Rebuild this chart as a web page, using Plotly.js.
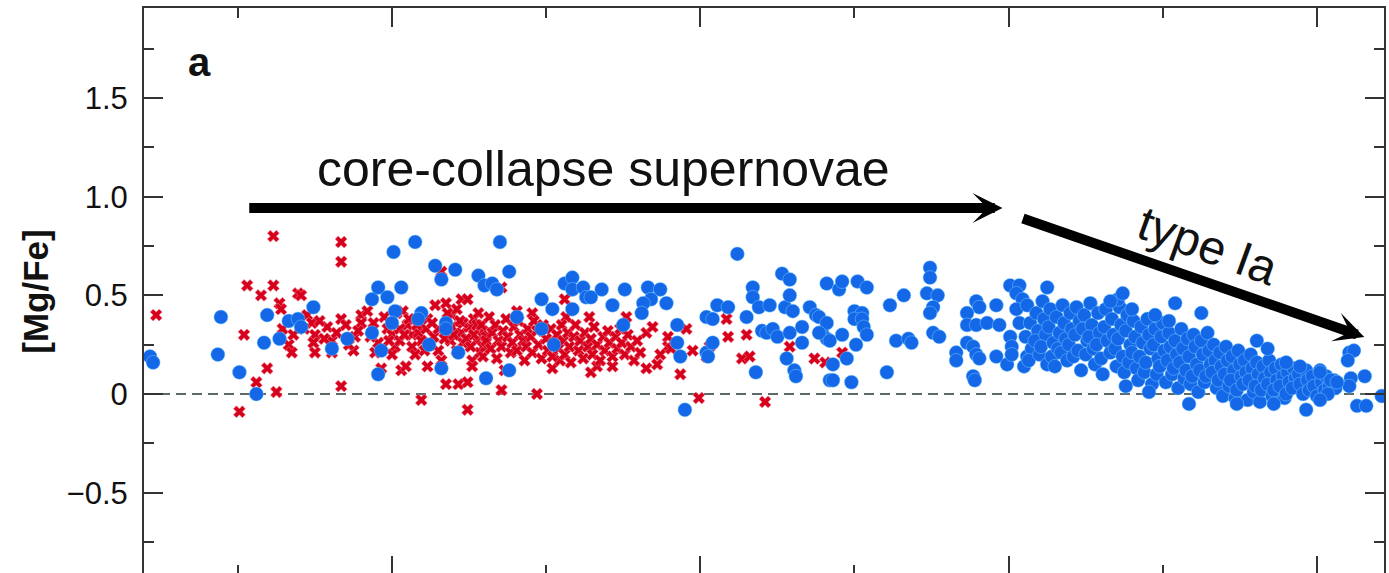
<!DOCTYPE html>
<html>
<head>
<meta charset="utf-8">
<script src="https://cdn.plot.ly/plotly-3.0.1.min.js"></script>
<style>
  html, body { margin: 0; padding: 0; background: #fff; overflow: hidden; }
  #chart { width: 1389px; height: 577px; }
</style>
</head>
<body>
<div id="chart"></div>
<script>
// Stars drawn as [x, [Mg/Fe]] pairs.
// Red crosses: metal-poor, alpha-enhanced population.
const redHalo = [
  [0.47,0.40],[1.01,-0.09],[1.06,0.55],[1.04,0.30],[1.15,0.50],[1.12,0.06],[1.19,0.13],[1.23,0.80],
  [1.23,0.55],[1.25,0.01],[1.27,0.46],[1.28,0.43],[1.29,0.33],[1.33,0.25],[1.35,0.21],[1.39,0.51],
  [1.41,0.50],[1.45,0.40],[1.48,0.36],[1.50,0.30],[1.49,0.26],[1.50,0.21],[1.58,0.34],[1.61,0.27],
  [1.61,0.21],[1.67,0.77],[1.67,0.67],[1.67,0.38],[1.67,0.04],[1.76,0.29],[1.75,0.22],[1.80,0.40],
  [1.84,0.42],[1.80,0.36],[1.89,0.21],[1.91,0.26],[1.93,0.13],[1.95,0.39],[1.97,0.33],[2.03,0.41],
  [2.07,0.42],[2.02,0.24],[2.06,0.12],[2.09,0.14],[2.10,0.35],[2.13,0.30],[2.17,0.31],[2.19,0.27],
  [2.22,0.33],[2.13,0.24],[2.15,0.20],[2.19,-0.03],[2.23,0.38],[2.23,0.14],[2.28,0.45],[2.32,0.62],
  [2.32,0.17],[2.35,0.46],[2.39,0.40],[2.42,0.43],[2.45,0.48],[2.49,0.48],[2.35,0.05],[2.43,0.05],
  [2.49,0.06],[2.39,0.34],[2.45,0.31],[2.50,0.34],[2.55,0.27],[2.59,0.32],[2.61,0.29],[2.52,0.17],
  [2.52,0.14],[2.49,-0.08],[2.59,0.24],[2.57,0.21],
  [2.00,0.30],[2.00,0.20],[2.05,0.33],[2.05,0.27],[2.25,0.25],[2.27,0.29],[2.30,0.33],[2.30,0.22],
  [2.38,0.27],[2.42,0.22],[2.46,0.36],[2.46,0.26],[2.53,0.38],[2.53,0.30],
  [1.36,0.30],[1.43,0.33],[1.53,0.37],[1.56,0.28],[1.64,0.31],[1.70,0.35],[1.72,0.25],[1.78,0.32],
  [1.86,0.29],[1.88,0.36],[1.98,0.27],[2.08,0.30],[2.11,0.38],[2.16,0.35],[2.21,0.22],[2.26,0.36],
  [2.34,0.28],[2.36,0.41],[2.40,0.30],[2.44,0.37],[2.48,0.28],[2.51,0.24],[2.55,0.35],[2.56,0.41]
];
const redDisk = [
  [2.71,0.54],[2.71,0.02],[2.94,0.00],[2.81,0.42],[2.91,0.41],[3.12,0.48],[3.13,0.39],[3.28,0.39],
  [3.52,0.39],[3.87,0.10],[3.99,-0.02],[4.17,0.38],[4.18,0.29],[4.30,0.30],[4.27,0.18],[4.32,0.19],
  [4.42,-0.04],[4.58,0.24],[4.74,0.18],[4.81,0.16],[3.65,0.31],[3.69,0.34],[3.79,0.29],[3.79,0.24],
  [3.74,0.20],[3.81,0.23],[3.91,0.33],[3.95,0.22],[4.04,0.19],[4.06,0.24],[3.65,0.13],[3.72,0.15],
  [3.04,0.13],[3.09,0.17],[3.29,0.11],[3.33,0.14],[3.43,0.14],[4.92,0.21]
];
const redCore = [
  [2.58,0.35],[2.61,0.27],[2.59,0.19],[2.63,0.39],[2.65,0.31],[2.64,0.23],[2.67,0.35],[2.69,0.27],
  [2.68,0.18],[2.72,0.32],[2.71,0.24],[2.74,0.38],[2.75,0.29],[2.73,0.12],[2.77,0.21],[2.79,0.34],
  [2.78,0.26],[2.82,0.37],[2.83,0.30],[2.81,0.22],[2.85,0.27],[2.86,0.17],[2.88,0.33],[2.87,0.24],
  [2.90,0.29],[2.92,0.37],[2.91,0.21],[2.94,0.32],[2.95,0.25],[2.97,0.18],[2.98,0.35],[3.00,0.28],
  [3.01,0.22],[3.03,0.33],[3.05,0.26],[3.04,0.19],[3.07,0.30],[3.08,0.23],[3.10,0.35],[3.11,0.27],
  [3.12,0.20],[3.14,0.31],[3.15,0.24],[3.16,0.16],[3.18,0.29],[3.19,0.35],[3.21,0.22],[3.22,0.27],
  [3.24,0.18],[3.25,0.31],[3.27,0.24],[3.29,0.28],[3.30,0.20],[3.31,0.34],[3.33,0.25],[3.35,0.17],
  [3.37,0.29],[3.38,0.22],[3.40,0.32],[3.41,0.26],[3.43,0.19],[3.45,0.29],[3.46,0.23],[3.48,0.33],
  [3.49,0.26],[3.51,0.20],[3.53,0.30],[3.55,0.24],[3.57,0.17],[3.59,0.27],[3.61,0.21]
];

// Blue circles: stars spanning the full range, ending in the low-[Mg/Fe] sequence.
const blueHalo = [
  [0.43,0.19],[0.45,0.16],[0.89,0.39],[0.87,0.20],[1.01,0.11],[1.12,0.00],[1.19,0.40],[1.17,0.26],
  [1.27,0.28],[1.33,0.37],[1.39,0.38],[1.41,0.34],[1.49,0.44],[1.61,0.23],[1.71,0.28],[1.87,0.48],
  [1.91,0.54],[1.97,0.49],[2.06,0.54],[2.02,0.42],[2.00,0.36],[1.87,0.31],[1.93,0.22],[1.91,0.10],
  [2.01,0.72],[2.15,0.77],[2.28,0.65],[2.32,0.58],[2.41,0.63],[2.56,0.60],[2.60,0.55],[2.19,0.41],
  [2.17,0.38],[2.24,0.25],[2.35,0.36],[2.35,0.33],[2.43,0.21],[2.32,0.13],[2.61,0.08]
];
const blueMid = [
  [2.65,0.56],[2.68,0.53],[2.70,0.77],[2.76,0.62],[2.76,0.12],[2.81,0.39],[2.97,0.48],[3.04,0.43],
  [2.97,0.33],[3.05,0.25],[3.12,0.56],[3.17,0.59],[3.17,0.53],[3.24,0.54],[3.26,0.49],[3.29,0.49],
  [3.36,0.53],[3.17,0.43],[3.43,0.45],[3.50,0.35],[3.51,0.53],[3.66,0.54],[3.74,0.53],[3.68,0.48],
  [3.63,0.46],[3.62,0.41],[3.78,0.46],[3.85,0.35],[3.85,0.26],[3.87,0.19],[3.90,-0.08],[4.04,0.39],
  [4.08,0.38],[4.11,0.45],[4.18,0.44],[4.04,0.21],[4.08,0.26],[4.05,0.19],[4.24,0.71],[4.30,0.39],
  [4.34,0.54],[4.34,0.49],[4.38,0.44],[4.45,0.45],[4.40,0.32],[4.43,0.31],[4.47,0.33],[4.50,0.29],
  [4.55,0.44],[4.53,0.61],[4.58,0.58],[4.58,0.50],[4.58,0.31],[4.60,0.42],[4.66,0.34],[4.66,0.26],
  [4.36,0.11],[4.56,0.18],[4.61,0.12],[4.62,0.09],[4.71,0.44],[4.75,0.40],[4.82,0.56],[4.79,0.31],
  [4.82,0.28],[4.84,0.07]
];
const blueThin = [
  [4.90,0.53],[4.92,0.57],[5.02,0.57],[5.08,0.54],[4.77,0.39],[4.82,0.36],[4.77,0.31],[5.00,0.42],
  [5.05,0.41],[5.00,0.38],[5.05,0.38],[5.06,0.34],[4.84,0.27],[4.92,0.30],[5.01,0.25],[5.08,0.30],
  [4.86,0.15],[4.95,0.18],[4.86,0.07],[4.98,0.06],[5.21,0.11],[5.23,0.45],[5.32,0.50],[5.27,0.27],
  [5.35,0.28],[5.37,0.26],[5.49,0.64],[5.49,0.59],[5.47,0.51],[5.54,0.50],[5.51,0.44],[5.49,0.41],
  [5.51,0.31],[5.55,0.29],[5.66,0.21],[5.66,0.17],[5.73,0.26],[5.77,0.24],[5.79,0.20],[5.81,0.18],
  [5.73,0.41],[5.79,0.47],[5.81,0.44],[5.73,0.35],[5.79,0.35],[5.86,0.36],[5.77,0.09],[5.92,0.45],
  [5.94,0.35],[6.01,0.29],[6.02,0.24],[5.92,0.19],[5.99,0.15],[6.02,0.20],[6.12,0.19],[6.10,0.14],
  [6.01,0.55],[6.07,0.55],[6.05,0.51],[6.09,0.48],[6.05,0.43],[6.07,0.36],[6.25,0.54],[6.26,0.16],
  [5.78,0.07]
];
const blueBandA = [
  [6.12,0.45],[6.14,0.36],[6.11,0.29],[6.15,0.23],[6.13,0.17],[6.18,0.41],[6.19,0.32],[6.17,0.27],
  [6.20,0.20],[6.22,0.47],[6.23,0.38],[6.24,0.30],[6.21,0.24],[6.25,0.15],[6.27,0.43],[6.26,0.34],
  [6.29,0.26],[6.28,0.19],[6.31,0.39],[6.33,0.31],[6.32,0.23],[6.30,0.14],[6.35,0.45],[6.36,0.36],
  [6.37,0.28],[6.34,0.21],[6.38,0.17],[6.40,0.41],[6.41,0.33],[6.39,0.25],[6.42,0.19],[6.44,0.44],
  [6.46,0.37],[6.43,0.30],[6.45,0.22],[6.47,0.12],[6.49,0.40],[6.48,0.33],[6.51,0.27],[6.50,0.20],
  [6.53,0.46],[6.54,0.35],[6.52,0.29],[6.55,0.23],[6.56,0.15],[6.58,0.41],[6.59,0.31],[6.57,0.25],
  [6.60,0.18],[6.61,0.10],[6.63,0.43],[6.62,0.34],[6.64,0.27],[6.66,0.21],[6.67,0.38],[6.68,0.30],
  [6.69,0.23],[6.70,0.14],[6.72,0.44],[6.73,0.35],[6.71,0.28],[6.74,0.19],[6.75,0.11],[6.77,0.40],
  [6.76,0.32],[6.79,0.25],[6.78,0.16],[6.81,0.37],[6.82,0.29],[6.80,0.21],[6.83,0.13],[6.84,0.07],
  [6.86,0.34],[6.87,0.26],[6.85,0.19],[6.88,0.11],[6.90,0.38],[6.91,0.30],[6.92,0.23],[6.89,0.16],
  [6.93,0.05],[6.95,0.33],[6.94,0.25],[6.97,0.18],[6.96,0.10],[6.99,0.29],[7.00,0.36],[7.01,0.22],
  [6.98,0.14],[7.02,0.06],[7.04,0.31],[7.05,0.24],[7.03,0.17],[7.06,0.10],[7.08,0.27],[7.09,0.20],
  [7.07,0.13],[7.10,0.03]
];
const blueBandB = [
  [7.12,0.33],[7.13,0.23],[7.11,0.16],[7.14,0.08],[7.16,0.28],[7.17,0.19],[7.15,0.12],[7.18,0.05],
  [7.20,0.30],[7.21,0.24],[7.22,0.15],[7.19,0.09],[7.23,0.01],[7.25,0.27],[7.26,0.20],[7.24,0.12],
  [7.27,0.06],[7.29,0.31],[7.30,0.22],[7.31,0.15],[7.28,0.09],[7.33,0.25],[7.34,0.17],[7.32,0.11],
  [7.35,0.03],[7.37,0.21],[7.38,0.14],[7.36,0.07],[7.39,-0.01],[7.41,0.24],[7.42,0.17],[7.40,0.10],
  [7.43,0.04],[7.45,0.19],[7.46,0.12],[7.44,0.07],[7.47,-0.02],[7.49,0.22],[7.50,0.15],[7.51,0.09],
  [7.48,0.02],[7.53,0.17],[7.54,0.11],[7.52,0.05],[7.55,-0.03],[7.57,0.20],[7.58,0.13],[7.56,0.07],
  [7.59,0.01],[7.61,0.16],[7.62,0.10],[7.60,0.04],[7.63,-0.04],[7.65,0.14],[7.66,0.08],[7.64,0.02],
  [7.69,0.17],[7.70,0.11],[7.68,0.05],[7.71,-0.01],[7.73,0.13],[7.74,0.07],[7.72,0.02],[7.77,0.15],
  [7.78,0.09],[7.76,0.04],[7.79,-0.02],[7.81,0.11],[7.82,0.06],[7.80,0.00],[7.85,0.13],[7.86,0.08],
  [7.84,0.03],[7.88,0.10],[7.89,0.05],[7.91,0.00],[7.93,0.12],[7.94,0.07],[7.95,0.02],[7.97,0.09],
  [7.98,0.04],[8.00,-0.01],[8.02,0.12],[8.03,0.06],[8.05,0.02],[8.06,0.09],[8.08,0.04],[8.11,0.07],
  [8.12,0.03]
];
const blueTail = [
  [7.08,0.46],[7.25,0.41],[7.61,0.27],[7.68,0.23],[7.89,0.14],[8.02,0.11],[7.80,0.16],[8.21,0.21],
  [8.24,0.22],[8.20,0.17],[8.31,0.09],[8.22,0.08],[8.21,0.04],[8.42,-0.01],[8.26,-0.06],[8.32,-0.06],
  [6.91,0.01],[7.48,-0.05],[7.72,-0.05],[6.76,0.04],[8.07,0.00],[7.17,-0.05],[7.93,-0.08],[8.02,-0.03],
  [8.09,0.07],[8.13,0.06],[6.71,0.48],[6.74,0.51],[6.66,0.47],[6.80,0.43],[6.95,0.40],[7.04,0.37]
];

// Axis tick positions and labels
const yTickVals = [-0.5, 0, 0.5, 1.0, 1.5];
const yTickText = ['\u22120.5', '0', '0.5', '1.0', '1.5'];
const yMinorVals = [-0.75, -0.25, 0.25, 0.75, 1.25, 1.75];

const FONT = 'Liberation Sans, Arial, Helvetica, sans-serif';
const AXIS_COLOR = '#333333';

const redPoints = redHalo.concat(redDisk, redCore);
const bluePoints = blueHalo.concat(blueMid, blueThin, blueBandA, blueBandB, blueTail);

const traces = [
  {
    type: 'scatter', mode: 'markers',
    x: redPoints.map(p => p[0]), y: redPoints.map(p => p[1]),
    marker: { symbol: 'x', size: 10.5, color: '#d6001c', line: { width: 0.6, color: '#f07a8c' } },
    hoverinfo: 'skip', showlegend: false
  },
  {
    type: 'scatter', mode: 'markers',
    x: bluePoints.map(p => p[0]), y: bluePoints.map(p => p[1]),
    marker: { symbol: 'circle', size: 14, color: '#1468e8', line: { width: 0.8, color: 'rgba(120,205,255,0.6)' } },
    hoverinfo: 'skip', showlegend: false
  }
];

const axisCommon = {
  showline: true, linecolor: AXIS_COLOR, linewidth: 2, mirror: 'ticks',
  ticks: 'inside', ticklen: 19, tickwidth: 2, tickcolor: AXIS_COLOR,
  showgrid: false, zeroline: false, fixedrange: true
};

const layout = {
  width: 1389, height: 577,
  margin: { l: 144, r: 5, t: 8, b: 2, pad: 0 },
  paper_bgcolor: '#ffffff', plot_bgcolor: '#ffffff',
  font: { family: FONT, color: '#111111' },
  xaxis: Object.assign({}, axisCommon, {
    range: [0.391, 8.435], tickmode: 'linear', tick0: 0, dtick: 2,
    showticklabels: false,
    minor: { tickmode: 'linear', tick0: 0, dtick: 1, ticks: 'inside', ticklen: 10, tickwidth: 2, tickcolor: AXIS_COLOR }
  }),
  yaxis: Object.assign({}, axisCommon, {
    range: [-0.917, 1.956], tickmode: 'array', tickvals: yTickVals, ticktext: yTickText,
    tickfont: { family: FONT, size: 31, color: '#111111' },
    ticklabelstandoff: 8,
    minor: { tickmode: 'array', tickvals: yMinorVals, ticks: 'inside', ticklen: 10, tickwidth: 2, tickcolor: AXIS_COLOR },
    title: { text: '<b>[Mg/Fe]</b>', font: { family: FONT, size: 35, color: '#111111' }, standoff: 7 }
  }),
  shapes: [
    { type: 'line', xref: 'paper', yref: 'y', x0: 0, x1: 1, y0: 0, y1: 0,
      line: { color: '#5c6a6b', width: 2, dash: '10px,6px' }, layer: 'below' }
  ],
  annotations: [
    { xref: 'x', yref: 'y', x: 0.752, y: 1.683, text: '<b>a</b>', showarrow: false,
      font: { family: FONT, size: 40, color: '#111111' } },
    { xref: 'x', yref: 'y', x: 3.372, y: 1.14, text: 'core-collapse supernovae', showarrow: false,
      font: { family: FONT, size: 50, color: '#111111' } },
    { xref: 'x', yref: 'y', x: 7.29, y: 0.755, text: 'type Ia', showarrow: false, textangle: 20,
      font: { family: FONT, size: 48, color: '#111111' } },
    // core-collapse enrichment arrow
    { xref: 'x', yref: 'y', axref: 'x', ayref: 'y', x: 5.96, y: 0.943, ax: 1.064, ay: 0.943,
      text: '', showarrow: true, arrowhead: 3, arrowsize: 0.5, arrowwidth: 10, arrowcolor: '#000000', standoff: 0 },
    // type Ia enrichment arrow
    { xref: 'x', yref: 'y', axref: 'x', ayref: 'y', x: 8.307, y: 0.289, ax: 6.083, ay: 0.892,
      text: '', showarrow: true, arrowhead: 3, arrowsize: 0.5, arrowwidth: 10, arrowcolor: '#000000', standoff: 0 }
  ]
};

Plotly.newPlot('chart', traces, layout, { staticPlot: true, displayModeBar: false });
</script>
</body>
</html>
